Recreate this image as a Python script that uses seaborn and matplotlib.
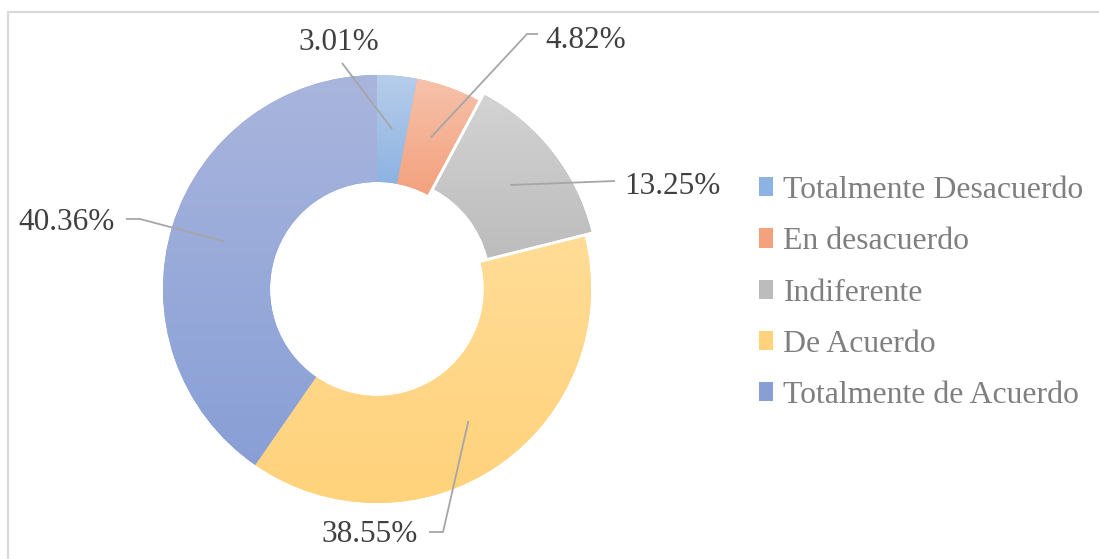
import matplotlib.pyplot as plt
import numpy as np
import seaborn as sns
from matplotlib.colors import LinearSegmentedColormap
from matplotlib.patches import Patch, Rectangle

categories = [
    "Totalmente Desacuerdo",
    "En desacuerdo",
    "Indiferente",
    "De Acuerdo",
    "Totalmente de Acuerdo",
]
percentages = [3.01, 4.82, 13.25, 38.55, 40.36]
label_texts = ["3.01%", "4.82%", "13.25%", "38.55%", "40.36%"]

# top / bottom colours of the gradient fill of each slice
top_colors = ["#b6cdea", "#f6c2ab", "#d3d3d3", "#ffdc96", "#a9b5dd"]
bottom_colors = ["#8db3e2", "#f4a17d", "#bcbcbc", "#ffd27b", "#889fd6"]

W, H = 1099, 559
CX, CY, R = 377, 289, 214


def to_data(px, py):
    return (px - CX) / R, (CY - py) / R


sns.set_theme(style="white")
plt.rcParams["font.family"] = ["Liberation Serif", "DejaVu Serif"]

fig = plt.figure(figsize=(W / 100, H / 100), dpi=100)
ax = fig.add_axes([0, 0, 1, 1])
ax.set_aspect("equal")
ax.axis("off")

fig.patches.append(
    Rectangle((8 / W, -0.1), 1.2, 1 - 12 / H + 0.1, transform=fig.transFigure,
              fill=False, edgecolor="#d9d9d9", linewidth=1.5)
)

explode = [0, 0, 0.04, 0, 0]
wedges, _ = ax.pie(
    percentages,
    startangle=90,
    counterclock=False,
    explode=explode,
    colors=bottom_colors,
    wedgeprops=dict(width=0.5, edgecolor="none"),
    radius=1,
)

# vertical gradient inside each slice
grad = np.linspace(1, 0, 256).reshape(-1, 1)
for w, c0, c1 in zip(wedges, top_colors, bottom_colors):
    ext = w.get_path().get_extents()
    cmap = LinearSegmentedColormap.from_list("g", [c1, c0])
    im = ax.imshow(grad, cmap=cmap, aspect="auto",
                   extent=(ext.x0, ext.x1, ext.y0, ext.y1), zorder=w.get_zorder() + 0.1)
    im.set_clip_path(w)

ax.set_xlim(-CX / R, (W - CX) / R)
ax.set_ylim(-(H - CY) / R, CY / R)

# leader line anchors: middle of the ring at each slice's mid angle
cum = np.cumsum([0] + percentages[:-1])
mid_angles = np.deg2rad(90 - (cum + np.array(percentages) / 2) * 3.6)

text_pos_px = [(339, 42), (586, 40), (672, 187), (370, 534), (67, 222)]
elbow_px = [None, [(527, 34), (538, 34)], None, [(443, 532), (429, 532)],
            [(140, 219), (126, 219)]]
end_px = [(342, 63), None, (615, 181), None, None]

line_color = "#a6a6a6"
for i, txt in enumerate(label_texts):
    a = mid_angles[i]
    off = explode[i]
    ax0 = (0.75 + off) * np.cos(a)
    ay0 = (0.75 + off) * np.sin(a)
    if elbow_px[i] is not None:
        pts = [to_data(*p) for p in elbow_px[i]]
    else:
        pts = [to_data(*end_px[i])]
    xs = [ax0] + [p[0] for p in pts]
    ys = [ay0] + [p[1] for p in pts]
    ax.plot(xs, ys, color=line_color, lw=1.3, zorder=10, solid_capstyle="butt")
    tx, ty = to_data(*text_pos_px[i])
    ax.text(tx, ty, txt, ha="center", va="center", fontsize=22.5,
            color="#404040", zorder=11)

handles = [Patch(facecolor=c, edgecolor="none") for c in bottom_colors]
leg = ax.legend(
    handles, categories,
    loc="upper left",
    bbox_to_anchor=(759 / W, 1 - 176 / H),
    bbox_transform=fig.transFigure,
    frameon=False,
    fontsize=22.9,
    handlelength=0.45,
    handleheight=0.55,
    handletextpad=0.32,
    labelspacing=0.7,
    borderpad=0,
    borderaxespad=0,
)
for t in leg.get_texts():
    t.set_color("#7f7f7f")

fig.savefig("out.png", dpi=100, facecolor="white")
